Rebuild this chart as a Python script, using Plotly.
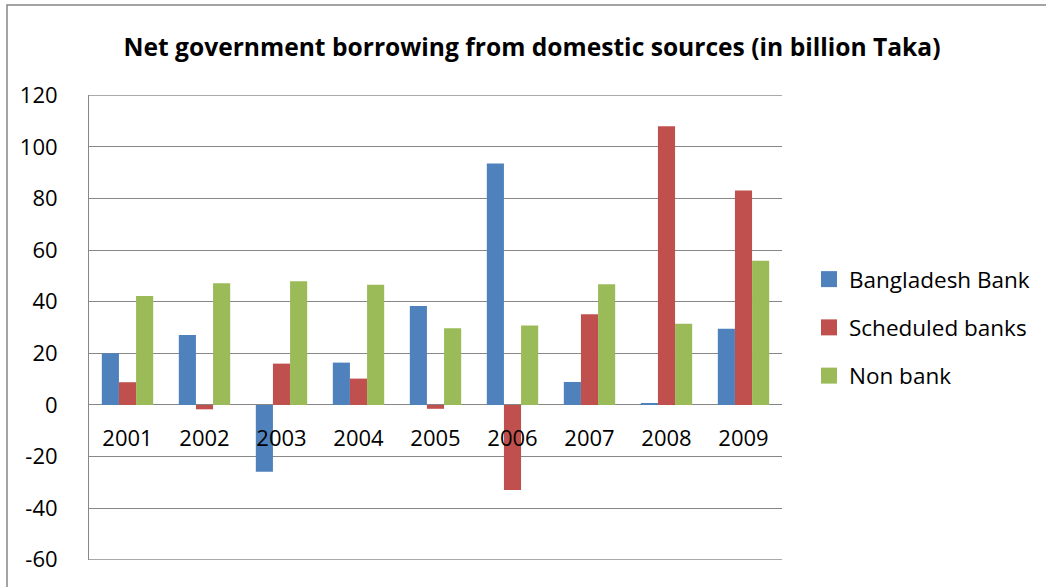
import plotly.graph_objects as go

years = ["2001", "2002", "2003", "2004", "2005", "2006", "2007", "2008", "2009"]
bangladesh_bank = [20.0, 27.1, -25.9, 16.4, 38.3, 93.5, 8.9, 0.6, 29.5]
scheduled_banks = [8.8, -1.7, 16.0, 10.2, -1.5, -33.0, 35.1, 108.0, 83.1]
non_bank = [42.2, 47.1, 47.9, 46.6, 29.7, 30.8, 46.8, 31.5, 55.9]
y_ticks = [-60, -40, -20, 0, 20, 40, 60, 80, 100, 120]
y_tick_labels = ["-60", "-40", "-20", "0", "20", "40", "60", "80", "100", "120"]

series = [
    ("Bangladesh Bank", bangladesh_bank, "#4F81BD"),
    ("Scheduled banks", scheduled_banks, "#C0504D"),
    ("Non bank", non_bank, "#9BBB59"),
]

FONT = "Open Sans"
GRID = "#878787"
W, H = 1046, 587
L, R, T, B = 89, 264, 95, 27
pw, ph = W - L - R, H - T - B
ymin, ymax = y_ticks[0], y_ticks[-1]
pad = 0.08

fig = go.Figure()
for i, (name, vals, col) in enumerate(series):
    fig.add_trace(go.Bar(x=years, y=vals, name=name, marker_color=col,
                         marker_line_width=0, legendgroup=f"g{i}", showlegend=False))
# legend entries with larger square swatches (as in the reference)
for i, (name, vals, col) in enumerate(series):
    fig.add_trace(go.Scatter(x=[None], y=[None], mode="markers", name=name,
                             marker=dict(symbol="square", size=20, color=col),
                             legendgroup=f"g{i}", showlegend=True, hoverinfo="skip"))

fig.update_layout(
    width=W, height=H,
    margin=dict(l=L, r=R, t=T, b=B, autoexpand=False),
    paper_bgcolor="white", plot_bgcolor="white",
    barmode="group", bargap=0.333, bargroupgap=0,
    font=dict(family=FONT, size=22, color="black"),
    title=dict(text="<b>Net government borrowing from domestic sources (in billion Taka)</b>",
               x=532 / W, xanchor="center", xref="container",
               y=1 - 47 / H, yanchor="middle", yref="container",
               font=dict(family=FONT, size=24.6, color="black")),
    legend=dict(x=(809 - L) / pw, xanchor="left", y=0.5, yanchor="middle",
                font=dict(family=FONT, size=22.5), tracegroupgap=16,
                bgcolor="rgba(0,0,0,0)"),
    showlegend=True,
)
fig.update_yaxes(range=[ymin - pad, ymax + pad], tickvals=y_ticks, ticktext=y_tick_labels,
                 showgrid=True, gridcolor=GRID,
                 gridwidth=1, zeroline=True, zerolinecolor=GRID, zerolinewidth=1,
                 showline=True, linecolor=GRID, linewidth=1, ticks="",
                 ticklabelstandoff=26, tickfont=dict(size=22))
fig.update_xaxes(anchor="free", position=(0 - ymin + pad) / (ymax - ymin + 2 * pad), showline=False,
                 showgrid=False, ticks="", ticklabelstandoff=18, tickfont=dict(size=22))

# gridlines at the range ends (plotly hides grid lines on the plot edges)
for v in (ymin, ymax):
    fig.add_shape(type="line", xref="paper", yref="y", x0=0, x1=1, y0=v, y1=v,
                  line=dict(color=GRID, width=1), layer="below")

# outer chart border (top and left edges visible)
fig.add_shape(type="rect", xref="paper", yref="paper",
              x0=(7 - L) / pw, x1=(W + 20 - L) / pw,
              y0=(H - B - (H + 20)) / ph, y1=(H - B - 5) / ph,
              line=dict(color=GRID, width=1.5), fillcolor="rgba(0,0,0,0)", layer="below")

fig.write_html("out.html")
